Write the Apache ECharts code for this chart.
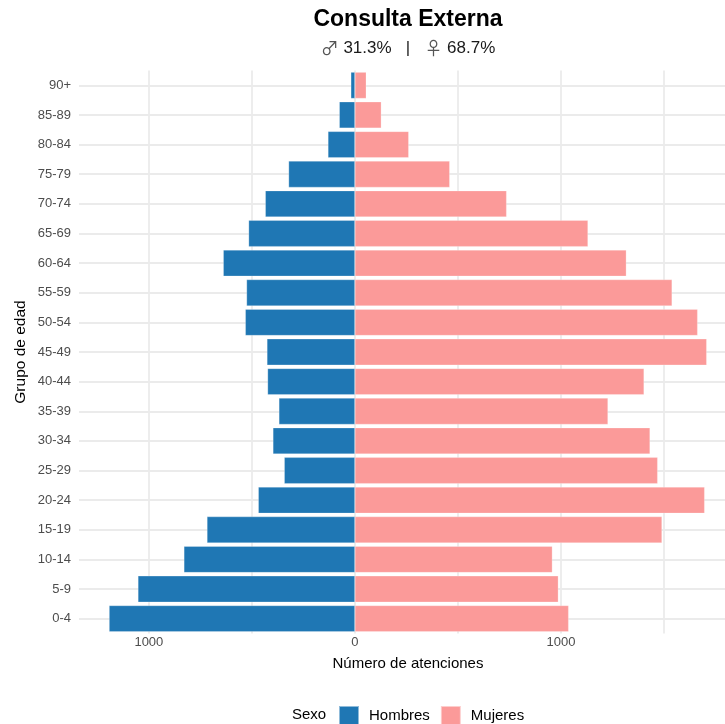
<!DOCTYPE html>
<html>
<head>
<meta charset="utf-8">
<script src="https://cdn.jsdelivr.net/npm/echarts@6/dist/echarts.min.js"></script>
<style>html,body{margin:0;padding:0;background:#fff}#c{width:725px;height:724px}</style>
</head>
<body>
<div id="c"></div>
<script>
const categories = ['0-4','5-9','10-14','15-19','20-24','25-29','30-34','35-39','40-44','45-49','50-54','55-59','60-64','65-69','70-74','75-79','80-84','85-89','90+'];
const hombres = [1193,1053,830,718,469,343,398,369,424,427,532,526,639,516,435,322,131,76,20];
const mujeres = [1037,987,958,1490,1697,1469,1432,1228,1403,1707,1663,1539,1317,1131,736,460,261,128,55];
const xTickLabels = [-1000, 0, 1000];
const xGridValues = [-1000, -500, 0, 500, 1000, 1500];
const titleText = 'Consulta Externa';
const pctHombres = '31.3%';
const pctMujeres = '68.7%';

const FONT = '"Liberation Sans", Arial, sans-serif';
const chart = echarts.init(document.getElementById('c'), null, {renderer: 'canvas'});
const gridColor = '#ebebeb';

chart.setOption({
  animation: false,
  backgroundColor: '#ffffff',
  textStyle: {fontFamily: FONT},
  graphic: [
    {type: 'text', x: 408, y: 20, style: {text: titleText, font: 'bold 23px ' + FONT, fill: '#000', textAlign: 'center', textVerticalAlign: 'middle'}},
    {type: 'text', x: 408, y: 48, style: {
      text: '{s|\u2642} ' + pctHombres + '   |   {s|\u2640} ' + pctMujeres,
      font: '17px ' + FONT, fill: '#1a1a1a', textAlign: 'center', textVerticalAlign: 'middle',
      rich: {s: {fontFamily: '"Noto Sans CJK JP"', fontSize: 18, fill: '#555', fontWeight: 'normal'}}
    }},
    {type: 'text', x: 292, y: 715, style: {text: 'Sexo', font: '15px ' + FONT, fill: '#000', textAlign: 'left', textVerticalAlign: 'middle'}}
  ],
  legend: {
    left: 338, top: 705, padding: 0,
    itemWidth: 20, itemHeight: 20, itemGap: 10,
    icon: 'rect',
    textStyle: {fontSize: 15, color: '#000', fontFamily: FONT, padding: [0, 0, 0, 5]},
    data: ['Hombres', 'Mujeres']
  },
  grid: {left: 79, top: 70.5, width: 658, height: 563, outerBoundsMode: 'none', containLabel: false},
  xAxis: {
    type: 'value', min: -1339, max: 1854,
    axisLine: {show: false}, axisTick: {show: false}, splitLine: {show: false},
    axisLabel: {customValues: xTickLabels, formatter: v => String(Math.abs(v)), color: '#4d4d4d', fontSize: 13, margin: 2, fontFamily: FONT},
    name: 'Número de atenciones', nameLocation: 'middle', nameGap: 23, nameMoveOverlap: false,
    nameTextStyle: {fontSize: 15, color: '#000', fontFamily: FONT}
  },
  yAxis: {
    type: 'category', data: categories,
    axisLine: {show: false}, axisTick: {show: false}, splitLine: {show: false},
    axisLabel: {color: '#4d4d4d', fontSize: 13, margin: 8, fontFamily: FONT},
    name: 'Grupo de edad', nameLocation: 'middle', nameGap: 50, nameRotate: 90, nameMoveOverlap: false,
    nameTextStyle: {fontSize: 15.5, color: '#000', fontFamily: FONT}
  },
  series: [
    {
      type: 'line', data: [], silent: true, z: 0,
      markLine: {
        silent: true, z: 0, symbol: ['none', 'none'], label: {show: false},
        lineStyle: {color: gridColor, width: 1.8, type: 'solid'},
        emphasis: {disabled: true},
        data: categories.map(c => ({yAxis: c})).concat(xGridValues.map(v => ({xAxis: v})))
      }
    },
    {
      name: 'Hombres', type: 'bar', stack: 'total', barWidth: '89%',
      itemStyle: {color: '#1f77b4', borderColor: 'rgba(255,255,255,0.5)', borderWidth: 0.5},
      data: hombres.map(v => -v), z: 10
    },
    {
      name: 'Mujeres', type: 'bar', stack: 'total', barWidth: '89%',
      itemStyle: {color: '#fb9a99', borderColor: 'rgba(255,255,255,0.5)', borderWidth: 0.5},
      data: mujeres, z: 10
    }
  ]
});
</script>
</body>
</html>
